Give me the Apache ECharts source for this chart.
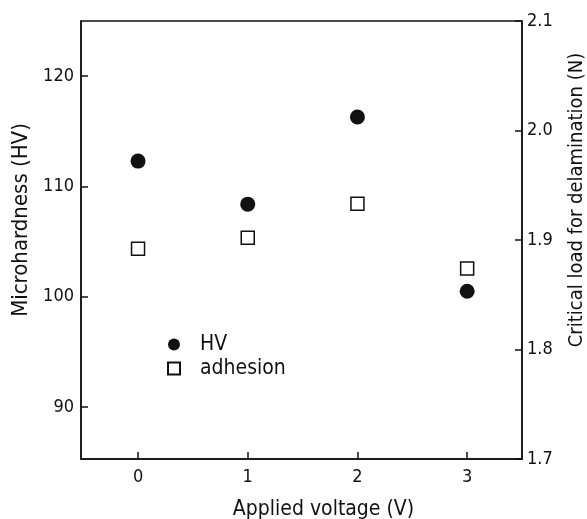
<!DOCTYPE html>
<html>
<head>
<meta charset="utf-8">
<script src="https://cdn.jsdelivr.net/npm/echarts@6/dist/echarts.min.js"></script>
<style>
  html, body { margin: 0; padding: 0; background: #fff; }
  #chart { width: 587px; height: 519px; }
</style>
</head>
<body>
<div id="chart"></div>
<script>
// values
const voltage = [0, 1, 2, 3]
const hardness = [112.3, 108.4, 116.3, 100.5]      // HV, left axis
const adhesion = [1.892, 1.902, 1.933, 1.874]      // N, right axis
const xTicks = [0, 1, 2, 3]
const hvTicks = [90, 100, 110, 120]

const FONT = '"DejaVu Sans Condensed", "DejaVu Sans", sans-serif'
const INK = '#111'

const chart = echarts.init(document.getElementById('chart'))

const axisCommon = {
  axisLine: { show: true, onZero: false, lineStyle: { color: INK, width: 1.5 } },
  axisTick: { show: true, inside: true, length: 7, lineStyle: { color: INK, width: 1.5 } },
  splitLine: { show: false },
  nameLocation: 'middle'
}

chart.setOption({
  animation: false,
  grid: {
    left: 81, right: 65, top: 21, bottom: 60,
    outerBoundsMode: 'none',
    containLabel: false,
    show: true, borderColor: INK, borderWidth: 1.5, backgroundColor: '#fff'
  },
  legend: {
    orient: 'vertical',
    left: 162, top: 329,
    itemWidth: 12, itemHeight: 12, itemGap: 3,
    textStyle: { fontFamily: FONT, fontSize: 21, lineHeight: 20, color: INK, padding: [0, 0, 0, 15] },
    data: ['HV', 'adhesion']
  },
  xAxis: {
    ...axisCommon,
    type: 'value',
    min: -0.52, max: 3.5,
    axisTick: { ...axisCommon.axisTick, customValues: xTicks },
    axisLabel: { customValues: xTicks, color: INK, fontFamily: FONT, fontSize: 18, margin: 9 },
    name: 'Applied voltage (V)',
    nameGap: 40,
    nameTextStyle: { fontFamily: FONT, fontSize: 21, color: INK, padding: [0, 0, 0, 44] }
  },
  yAxis: [
    {
      ...axisCommon,
      type: 'value',
      min: 85.3, max: 125,
      axisTick: { ...axisCommon.axisTick, customValues: hvTicks },
      axisLabel: { customValues: hvTicks, color: INK, fontFamily: FONT, fontSize: 18, margin: 7 },
      name: 'Microhardness (HV)',
      nameRotate: 90,
      nameGap: 48,
      nameTextStyle: { fontFamily: FONT, fontSize: 22, color: INK, padding: [0, 0, 0, 40] }
    },
    {
      ...axisCommon,
      type: 'value',
      position: 'right',
      min: 1.7, max: 2.1, interval: 0.1,
      axisLabel: {
        color: INK, fontFamily: FONT, fontSize: 18, margin: 5,
        formatter: v => v.toFixed(1)
      },
      name: 'Critical load for delamination (N)',
      nameRotate: 90,
      nameGap: 45,
      nameTextStyle: { fontFamily: FONT, fontSize: 20, color: INK, padding: [0, 0, 0, 80] }
    }
  ],
  series: [
    {
      name: 'HV',
      type: 'scatter',
      yAxisIndex: 0,
      symbol: 'circle',
      symbolSize: 15,
      itemStyle: { color: INK, opacity: 1 },
      data: voltage.map((v, i) => [v, hardness[i]])
    },
    {
      name: 'adhesion',
      type: 'scatter',
      yAxisIndex: 1,
      symbol: 'rect',
      symbolSize: 13,
      itemStyle: { color: '#fff', borderColor: INK, borderWidth: 1.5, opacity: 1 },
      data: voltage.map((v, i) => [v, adhesion[i]])
    }
  ]
})
</script>
</body>
</html>
